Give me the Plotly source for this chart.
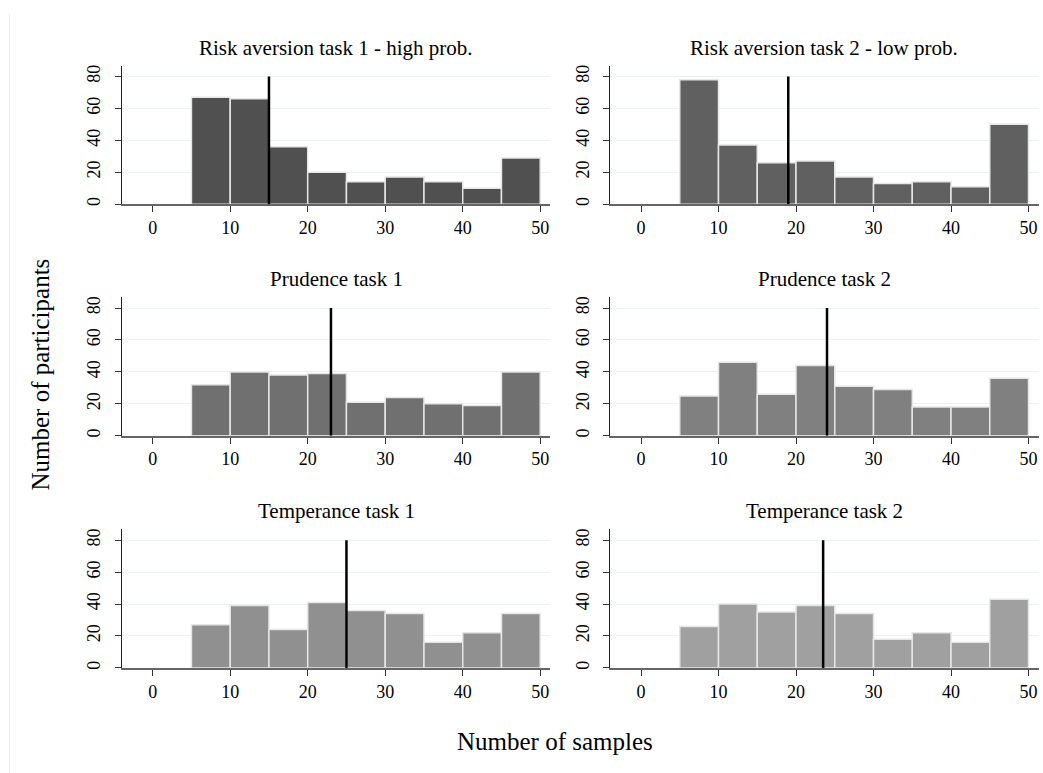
import plotly.graph_objects as go

W, H = 1043, 773

titles = [
    "Risk aversion task 1 - high prob.",
    "Risk aversion task 2 - low prob.",
    "Prudence task 1",
    "Prudence task 2",
    "Temperance task 1",
    "Temperance task 2",
]
bin_edges = [5, 10, 15, 20, 25, 30, 35, 40, 45, 50]
counts_risk1 = [67, 66, 36, 20, 14, 17, 14, 10, 29]
counts_risk2 = [78, 37, 26, 27, 17, 13, 14, 11, 50]
counts_prud1 = [32, 40, 38, 39, 21, 24, 20, 19, 40]
counts_prud2 = [25, 46, 26, 44, 31, 29, 18, 18, 36]
counts_temp1 = [27, 39, 24, 41, 36, 34, 16, 22, 34]
counts_temp2 = [26, 40, 35, 39, 34, 18, 22, 16, 43]
medians = [15, 19, 23, 24, 25, 23.5]
median_line_top = 80
x_ticks = [0, 10, 20, 30, 40, 50]
y_ticks = [0, 20, 40, 60, 80]
bar_colors = ["#505050", "#606060", "#707070", "#808080", "#909090", "#a0a0a0"]

all_counts = [counts_risk1, counts_risk2, counts_prud1, counts_prud2, counts_temp1, counts_temp2]

centers = [(a + b) / 2 for a, b in zip(bin_edges[:-1], bin_edges[1:])]
widths = [b - a for a, b in zip(bin_edges[:-1], bin_edges[1:])]

# pixel layout
col_px = [(121.7, 550.3), (610.0, 1038.6)]
row_px = [(65.0, 204.0), (297.5, 436.5), (530.5, 669.5)]

def px_x(p):
    return p / W

def px_y(p):
    return 1 - p / H

FONT = "Liberation Serif"
fig = go.Figure()
layout = dict(
    width=W, height=H, margin=dict(l=0, r=0, t=0, b=0),
    paper_bgcolor="white", plot_bgcolor="white", showlegend=False,
    font=dict(family=FONT, color="black", size=18),
    annotations=[], shapes=[],
)

for i in range(6):
    r, c = divmod(i, 2)
    k = i + 1
    xa = "x" if k == 1 else f"x{k}"
    ya = "y" if k == 1 else f"y{k}"
    fig.add_trace(go.Bar(
        x=centers, y=all_counts[i], width=widths,
        marker=dict(color=bar_colors[i], line=dict(color="#e6e6e6", width=1.5)),
        xaxis=xa, yaxis=ya, hoverinfo="skip",
    ))
    fig.add_trace(go.Scatter(
        x=[medians[i], medians[i]], y=[0, median_line_top], mode="lines",
        line=dict(color="black", width=2.5), xaxis=xa, yaxis=ya, hoverinfo="skip",
    ))
    xd = [px_x(col_px[c][0]), px_x(col_px[c][1])]
    yd = [px_y(row_px[r][1]), px_y(row_px[r][0])]
    layout[f"xaxis{'' if k == 1 else k}"] = dict(
        domain=xd, anchor=ya, range=[-4.0, 51.3],
        tickvals=x_ticks, ticks="outside", ticklen=6, tickcolor="#333",
        showline=True, linecolor="#666", linewidth=2, showgrid=False, zeroline=False,
        tickfont=dict(family=FONT, size=18, color="black"),
    )
    layout[f"yaxis{'' if k == 1 else k}"] = dict(
        domain=yd, anchor=xa, range=[0, 86.7],
        tickvals=y_ticks, ticks="outside", ticklen=6, tickcolor="#333",
        showline=True, linecolor="#222", linewidth=1.2,
        showgrid=True, gridcolor="#eaf2f3", gridwidth=1, zeroline=False,
        tickangle=-90, ticklabelstandoff=7,
        tickfont=dict(family=FONT, size=18, color="black"),
    )
    layout["annotations"].append(dict(
        text=titles[i], xref="paper", yref="paper",
        x=(xd[0] + xd[1]) / 2, y=px_y(row_px[r][0] - 4),
        xanchor="center", yanchor="bottom", showarrow=False,
        font=dict(family=FONT, size=21, color="black"),
    ))

layout["annotations"].append(dict(
    text="Number of participants", xref="paper", yref="paper",
    x=px_x(41), y=px_y(375), textangle=-90, showarrow=False,
    xanchor="center", yanchor="middle",
    font=dict(family=FONT, size=25, color="black"),
))
layout["annotations"].append(dict(
    text="Number of samples", xref="paper", yref="paper",
    x=px_x(555), y=px_y(743), showarrow=False,
    xanchor="center", yanchor="middle",
    font=dict(family=FONT, size=25, color="black"),
))
layout["shapes"].append(dict(
    type="line", xref="paper", yref="paper",
    x0=px_x(9.5), y0=px_y(13.5), x1=px_x(9.5), y1=-0.02,
    line=dict(color="#ececec", width=1), layer="below",
))

fig.update_layout(**layout)
fig.write_html("out.html")
